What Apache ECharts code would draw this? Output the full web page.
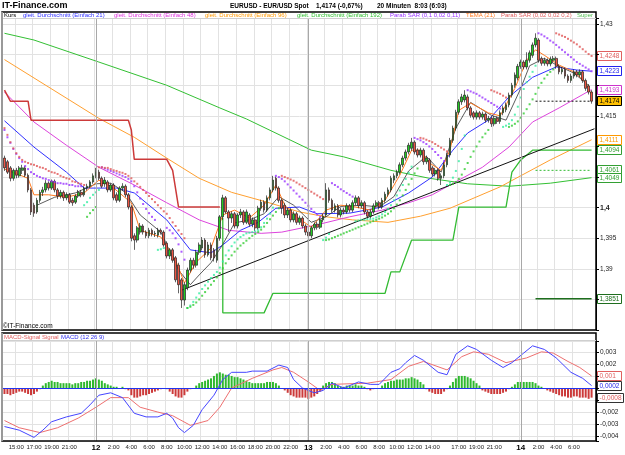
<!DOCTYPE html>
<html>
<head>
<meta charset="utf-8">
<script src="https://cdn.jsdelivr.net/npm/echarts@6/dist/echarts.min.js"></script>
<style>html,body{margin:0;padding:0;background:#fff}#chart{width:625px;height:455px}</style>
</head>
<body>
<div id="chart"></div>
<script>
var FONT = 'Liberation Sans, Arial, sans-serif';

// 20-minute bars, 11th 13:40 .. 14th 8:00 (+1 empty slot)
var times = [];
(function () {
  var d = 11, m = 13 * 60 + 40;
  for (var k = 0; k < 201; k++) {
    var h = Math.floor(m / 60), mm = m % 60;
    times.push(d + ' ' + (h < 10 ? '0' : '') + h + ':' + (mm < 10 ? '0' : '') + mm);
    m += 20;
    if (m >= 1440) { m -= 1440; d++; }
  }
})();

var tickTimes = ['11 15:00','11 17:00','11 19:00','11 21:00','12 00:00','12 02:00','12 04:00','12 06:00','12 08:00',
  '12 10:00','12 12:00','12 14:00','12 16:00','12 18:00','12 20:00','12 22:00','13 00:00','13 02:00','13 04:00',
  '13 06:00','13 08:00','13 10:00','13 12:00','13 14:00','13 17:00','13 19:00','13 21:00','14 00:00','14 02:00',
  '14 04:00','14 06:00'];
var dayTicks = ['12 00:00', '13 00:00', '14 00:00'];
var yLabels = ['1,43', '1,415', '1,4', '1,395', '1,39'];
var macdLabels = ['0,003', '0,002', '-0,002', '-0,003', '-0,004'];

// [open, close, low, high]
var candles = [
 [1.4081,1.4065,1.4060,1.4085],[1.4075,1.4058,1.4055,1.4078],[1.4065,1.4048,1.4043,1.4068],[1.4048,1.4061,1.4044,1.4064],
 [1.4061,1.4053,1.4048,1.4065],[1.4052,1.4065,1.4049,1.4068],[1.4061,1.4065,1.4055,1.4070],[1.4065,1.4053,1.4050,1.4068],
 [1.4053,1.4029,1.4025,1.4056],[1.4029,1.3993,1.3988,1.4032],[1.4004,1.3991,1.3985,1.4008],[1.3993,1.4012,1.3990,1.4016],
 [1.4012,1.4025,1.4008,1.4029],[1.4025,1.4029,1.4019,1.4034],[1.4029,1.4040,1.4025,1.4045],[1.4040,1.4032,1.4028,1.4043],
 [1.4032,1.4043,1.4029,1.4046],[1.4043,1.4029,1.4025,1.4046],[1.4029,1.4019,1.4014,1.4032],[1.4019,1.4025,1.4015,1.4029],
 [1.4025,1.4016,1.4011,1.4028],[1.4016,1.4021,1.4012,1.4025],[1.4021,1.4009,1.4006,1.4024],[1.4012,1.4008,1.4003,1.4016],
 [1.4009,1.4019,1.4006,1.4022],[1.4019,1.4025,1.4016,1.4029],[1.4025,1.4021,1.4017,1.4029],[1.4021,1.4032,1.4018,1.4035],
 [1.4032,1.4035,1.4028,1.4039],[1.4035,1.4042,1.4032,1.4045],[1.4042,1.4052,1.4039,1.4056],[1.4052,1.4058,1.4048,1.4065],
 [1.4058,1.4048,1.4045,1.4062],[1.4048,1.4035,1.4032,1.4051],[1.4039,1.4045,1.4034,1.4050],[1.4042,1.4029,1.4025,1.4045],
 [1.4029,1.4037,1.4026,1.4040],[1.4037,1.4016,1.4012,1.4040],[1.4021,1.4012,1.4008,1.4025],[1.4012,1.4032,1.4009,1.4035],
 [1.4032,1.4035,1.4028,1.4040],[1.4035,1.4021,1.4017,1.4038],[1.4021,1.4001,1.3997,1.4024],[1.4001,1.3950,1.3945,1.4004],
 [1.3954,1.3947,1.3931,1.3958],[1.3947,1.3967,1.3943,1.3970],[1.3960,1.3970,1.3956,1.3975],[1.3970,1.3960,1.3956,1.3973],
 [1.3960,1.3954,1.3950,1.3963],[1.3954,1.3963,1.3950,1.3967],[1.3963,1.3957,1.3953,1.3966],[1.3957,1.3958,1.3952,1.3962],
 [1.3955,1.3963,1.3951,1.3967],[1.3963,1.3960,1.3956,1.3966],[1.3960,1.3939,1.3936,1.3963],[1.3942,1.3921,1.3917,1.3945],
 [1.3921,1.3931,1.3916,1.3934],[1.3931,1.3914,1.3910,1.3934],[1.3918,1.3882,1.3878,1.3921],[1.3906,1.3874,1.3860,1.3910],
 [1.3882,1.3849,1.3836,1.3885],[1.3849,1.3874,1.3840,1.3878],[1.3869,1.3898,1.3865,1.3902],[1.3898,1.3914,1.3894,1.3918],
 [1.3914,1.3906,1.3900,1.3918],[1.3906,1.3927,1.3902,1.3931],[1.3927,1.3939,1.3923,1.3943],[1.3934,1.3947,1.3930,1.3952],
 [1.3947,1.3923,1.3918,1.3950],[1.3923,1.3939,1.3920,1.3944],[1.3939,1.3918,1.3914,1.3943],[1.3931,1.3918,1.3912,1.3934],
 [1.3914,1.3950,1.3910,1.3954],[1.3950,1.3985,1.3946,1.3988],[1.3985,1.4016,1.3980,1.4021],[1.4016,1.3993,1.3990,1.4019],
 [1.3993,1.3983,1.3960,1.3996],[1.3983,1.3990,1.3975,1.3994],[1.3990,1.3970,1.3966,1.3993],[1.3970,1.3988,1.3966,1.3991],
 [1.3988,1.3993,1.3983,1.3998],[1.3993,1.3976,1.3972,1.3996],[1.3976,1.3993,1.3973,1.3997],[1.3988,1.3973,1.3969,1.3991],
 [1.3973,1.3980,1.3968,1.3984],[1.3980,1.3967,1.3962,1.3983],[1.3967,1.3999,1.3964,1.4003],[1.3999,1.4009,1.3995,1.4013],
 [1.4009,1.3996,1.3992,1.4012],[1.3996,1.4016,1.3993,1.4020],[1.4016,1.4029,1.4012,1.4033],[1.4029,1.4045,1.4025,1.4052],
 [1.4048,1.4032,1.4028,1.4051],[1.4032,1.4012,1.4008,1.4035],[1.4012,1.3999,1.3990,1.4015],[1.4004,1.3988,1.3983,1.4008],
 [1.3988,1.3996,1.3983,1.4000],[1.3996,1.3980,1.3976,1.3999],[1.3980,1.3990,1.3976,1.3994],[1.3990,1.3976,1.3972,1.3993],
 [1.3976,1.3983,1.3972,1.3987],[1.3983,1.3970,1.3966,1.3986],[1.3970,1.3960,1.3955,1.3973],[1.3960,1.3954,1.3947,1.3963],
 [1.3954,1.3967,1.3950,1.3970],[1.3967,1.3973,1.3963,1.3976],[1.3973,1.3968,1.3964,1.3977],[1.3968,1.3980,1.3965,1.3983],
 [1.3980,1.3986,1.3976,1.3990],[1.3988,1.4029,1.3985,1.4040],[1.4029,1.4012,1.4008,1.4033],[1.4012,1.3996,1.3992,1.4015],
 [1.3996,1.4003,1.3992,1.4007],[1.4003,1.3988,1.3984,1.4006],[1.3988,1.3996,1.3984,1.4000],[1.3996,1.3993,1.3989,1.4000],
 [1.3993,1.4003,1.3990,1.4007],[1.4003,1.3996,1.3992,1.4006],[1.3996,1.4008,1.3993,1.4012],[1.4008,1.4016,1.4004,1.4020],
 [1.4016,1.4003,1.3999,1.4019],[1.4003,1.4008,1.3999,1.4012],[1.4008,1.3993,1.3989,1.4011],[1.3993,1.3986,1.3982,1.3996],
 [1.3986,1.3993,1.3982,1.3997],[1.3993,1.4003,1.3990,1.4007],[1.4003,1.4008,1.4000,1.4012],[1.4008,1.4001,1.3997,1.4011],
 [1.4001,1.4012,1.3998,1.4016],[1.4012,1.4022,1.4008,1.4026],[1.4022,1.4029,1.4018,1.4033],[1.4029,1.4048,1.4025,1.4052],
 [1.4045,1.4052,1.4040,1.4056],[1.4052,1.4058,1.4048,1.4062],[1.4058,1.4070,1.4054,1.4074],[1.4070,1.4081,1.4066,1.4085],
 [1.4081,1.4091,1.4077,1.4095],[1.4091,1.4102,1.4087,1.4106],[1.4097,1.4107,1.4093,1.4114],[1.4107,1.4091,1.4087,1.4110],
 [1.4094,1.4086,1.4082,1.4097],[1.4086,1.4094,1.4082,1.4098],[1.4094,1.4075,1.4070,1.4097],[1.4075,1.4081,1.4071,1.4085],
 [1.4078,1.4061,1.4057,1.4081],[1.4065,1.4055,1.4051,1.4068],[1.4055,1.4061,1.4051,1.4065],[1.4061,1.4048,1.4044,1.4064],
 [1.4048,1.4052,1.4037,1.4056],[1.4052,1.4070,1.4048,1.4074],[1.4070,1.4086,1.4066,1.4090],[1.4086,1.4110,1.4082,1.4114],
 [1.4110,1.4130,1.4106,1.4134],[1.4130,1.4156,1.4126,1.4160],[1.4156,1.4173,1.4152,1.4177],[1.4173,1.4181,1.4168,1.4186],
 [1.4176,1.4184,1.4172,1.4192],[1.4181,1.4163,1.4159,1.4185],[1.4163,1.4151,1.4147,1.4166],[1.4155,1.4148,1.4144,1.4158],
 [1.4148,1.4155,1.4144,1.4159],[1.4155,1.4148,1.4144,1.4158],[1.4148,1.4153,1.4144,1.4157],[1.4153,1.4143,1.4139,1.4156],
 [1.4143,1.4146,1.4139,1.4150],[1.4146,1.4137,1.4132,1.4149],[1.4137,1.4146,1.4133,1.4150],[1.4146,1.4141,1.4137,1.4149],
 [1.4141,1.4155,1.4137,1.4159],[1.4155,1.4163,1.4151,1.4167],[1.4160,1.4168,1.4156,1.4172],[1.4168,1.4184,1.4164,1.4188],
 [1.4184,1.4200,1.4180,1.4204],[1.4200,1.4217,1.4196,1.4221],[1.4212,1.4231,1.4208,1.4235],[1.4231,1.4238,1.4227,1.4242],
 [1.4238,1.4230,1.4226,1.4241],[1.4230,1.4241,1.4226,1.4254],[1.4241,1.4253,1.4237,1.4257],[1.4249,1.4266,1.4245,1.4270],
 [1.4266,1.4277,1.4262,1.4285],[1.4274,1.4241,1.4237,1.4277],[1.4244,1.4236,1.4232,1.4247],[1.4236,1.4241,1.4232,1.4245],
 [1.4241,1.4235,1.4231,1.4244],[1.4235,1.4243,1.4231,1.4247],[1.4241,1.4244,1.4237,1.4248],[1.4244,1.4231,1.4227,1.4247],
 [1.4231,1.4222,1.4218,1.4234],[1.4222,1.4226,1.4218,1.4230],[1.4226,1.4215,1.4211,1.4229],[1.4215,1.4208,1.4204,1.4218],
 [1.4208,1.4215,1.4204,1.4219],[1.4215,1.4222,1.4211,1.4226],[1.4222,1.4217,1.4213,1.4225],[1.4217,1.4222,1.4213,1.4226],
 [1.4222,1.4208,1.4204,1.4225],[1.4208,1.4195,1.4191,1.4211],[1.4199,1.4189,1.4185,1.4202],[1.4189,1.4174,1.4170,1.4192]
];

// moving averages etc. as [bar index, value]
var sma21 = [[0,1.4142],[10,1.4099],[21,1.4058],[27,1.4032],[38,1.4032],[44,1.4024],[55,1.3980],[63,1.3931],[70,1.3926],
  [74,1.3939],[80,1.3963],[86,1.3976],[92,1.3999],[100,1.4001],[106,1.3990],[117,1.3991],[128,1.4001],[137,1.4024],
  [145,1.4050],[152,1.4094],[157,1.4122],[164,1.4143],[171,1.4181],[179,1.4213],[187,1.4230],[194,1.4225],[199,1.4223]];
var sma48 = [[0,1.4189],[10,1.4140],[21,1.4102],[32,1.4066],[44,1.4037],[55,1.4008],[66,1.3980],[76,1.3963],[87,1.3958],
  [94,1.3960],[106,1.3972],[117,1.3985],[128,1.3996],[137,1.4008],[145,1.4021],[154,1.4045],[162,1.4066],[171,1.4099],
  [179,1.4140],[188,1.4163],[199,1.4193]];
var sma96 = [[0,1.4242],[32,1.4146],[44,1.4115],[55,1.4081],[66,1.4048],[77,1.4025],[89,1.4009],[100,1.3993],[109,1.3985],
  [118,1.3980],[130,1.3976],[141,1.3986],[151,1.3999],[168,1.4034],[185,1.4078],[199,1.4111]];
var sma192 = [[0,1.4285],[10,1.4274],[32,1.4238],[55,1.4200],[73,1.4163],[82,1.4145],[104,1.4094],[115,1.4083],[131,1.4061],
  [144,1.4048],[157,1.4039],[171,1.4035],[185,1.4040],[199,1.4049]];
var tema = [[0,1.4063],[8,1.4048],[10,1.4021],[15,1.4021],[21,1.4017],[27,1.4024],[32,1.4045],[37,1.4032],[43,1.4008],
  [46,1.3963],[53,1.3952],[58,1.3914],[61,1.3877],[65,1.3911],[70,1.3934],[74,1.3988],[78,1.3996],[83,1.3983],[88,1.4004],
  [92,1.4037],[95,1.4004],[99,1.3985],[104,1.3968],[109,1.3996],[114,1.4004],[119,1.4001],[124,1.3996],[129,1.4012],
  [134,1.4053],[138,1.4094],[141,1.4094],[144,1.4073],[148,1.4061],[151,1.4094],[154,1.4159],[158,1.4171],[164,1.4155],
  [168,1.4150],[173,1.4195],[177,1.4241],[180,1.4258],[183,1.4249],[188,1.4233],[193,1.4222],[197,1.4205],[199,1.4184]];
var thinLine = [[11,1.4004],[17,1.4017],[24,1.4024],[31,1.4039],[36,1.4040],[41,1.4025],[46,1.3988],[53,1.3960],[59,1.3898],
  [63,1.3874],[66,1.3890],[70,1.3910],[74,1.3940],[78,1.3975],[83,1.3980],[88,1.3990],[93,1.4018],[98,1.4004],[104,1.3976],
  [109,1.3985],[114,1.4002],[121,1.4004],[127,1.4001],[132,1.4018],[137,1.4060],[143,1.4084],[148,1.4058],[153,1.4130],
  [158,1.4172],[165,1.4151],[170,1.4143],[175,1.4195],[178,1.4232],[183,1.4244],[188,1.4231],[193,1.4220],[198,1.4200]];
var trendLine = [[60,1.3865],[200,1.4129]];
var superRed = [[0,1.4192],[2,1.4174],[8,1.4174],[9,1.4143],[42,1.4143],[43,1.4127],[44,1.4079],[55,1.4079],[57,1.4061],
  [59,1.4001],[73,1.4001]];
var superGreen = [[74,1.3983],[74,1.3828],[88,1.3828],[91,1.3860],[129,1.3860],[131,1.3895],[134,1.3895],[138,1.3947],
  [152,1.3947],[154,1.4001],[170,1.4001],[172,1.4058],[175,1.4078],[179,1.4094],[199,1.4094]];
var lastLevel = [[180,1.4174],[199,1.4174]];
var greenLevel = [[180,1.4061],[199,1.4061]];
var lowLevel = [[180,1.3851],[199,1.3851]];

// Parabolic SAR dots: [start bar, values...]
var sarFastDown = [
  [0,[1.4127,1.4115,1.4106,1.4096,1.4088,1.4081,1.4075,1.4068,1.4063,1.4058,1.4055,1.4052,1.4050,1.4048,1.4047,1.4045,1.4043,1.4042,1.4040,1.4040,1.4039,1.4039,1.4037,1.4037,1.4035,1.4035,1.4035]],
  [33,[1.4066,1.4064,1.4062,1.4060,1.4058,1.4056,1.4054,1.4052,1.4050,1.4047,1.4043,1.4035,1.4025,1.4015,1.4006,1.3998,1.3991,1.3985,1.3980]],
  [55,[1.3967,1.3963,1.3958,1.3950,1.3940,1.3928,1.3915]],
  [92,[1.4052,1.4050,1.4047,1.4043,1.4038,1.4033,1.4028,1.4023,1.4018,1.4013,1.4008,1.4003,1.3998,1.3993,1.3989,1.3985]],
  [111,[1.4040,1.4037,1.4034,1.4030,1.4027,1.4024,1.4021,1.4018]],
  [139,[1.4114,1.4112,1.4110,1.4107,1.4104,1.4100,1.4096,1.4091,1.4086,1.4081,1.4076]],
  [157,[1.4192,1.4190,1.4188,1.4186,1.4183,1.4180,1.4177,1.4174,1.4171,1.4168,1.4165,1.4162]],
  [181,[1.4285,1.4283,1.4280,1.4277,1.4273,1.4270,1.4266,1.4262,1.4258,1.4254,1.4250,1.4246,1.4242,1.4238,1.4235,1.4232,1.4229,1.4226,1.4223]]
];
var sarFastUp = [
  [27,[1.4004,1.4009,1.4016,1.4021,1.4025,1.4029]],
  [52,[1.3931,1.3932,1.3934]],
  [62,[1.3836,1.3840,1.3846,1.3853,1.3860,1.3867,1.3873,1.3879,1.3885,1.3890,1.3895,1.3902,1.3912,1.3922,1.3930,1.3937,1.3943,1.3948,1.3952,1.3955,1.3958,1.3959,1.3960,1.3961,1.3963,1.3968,1.3975,1.3982,1.3990,1.4000]],
  [108,[1.3947,1.3951,1.3957]],
  [119,[1.3978,1.3979,1.3980,1.3980,1.3981,1.3981,1.3982,1.3984,1.3986,1.3989,1.3993,1.3998,1.4004,1.4012,1.4020,1.4028,1.4037,1.4047,1.4057,1.4067]],
  [150,[1.4037,1.4041,1.4049,1.4060,1.4076,1.4096,1.4118]],
  [169,[1.4132,1.4134,1.4137,1.4143,1.4152,1.4165,1.4180,1.4194,1.4205,1.4214,1.4222,1.4232]]
];
var sarSlowDown = [
  [0,[1.4130,1.4119,1.4107,1.4097,1.4089,1.4083,1.4078,1.4075,1.4073,1.4071,1.4070,1.4068,1.4066,1.4065,1.4063,1.4060,1.4058,1.4057,1.4055,1.4052,1.4050,1.4048,1.4047,1.4043,1.4042,1.4040,1.4039,1.4037]],
  [32,[1.4066,1.4066,1.4065,1.4065,1.4063,1.4061,1.4060,1.4058,1.4057,1.4055,1.4052,1.4048,1.4043,1.4039,1.4034,1.4029,1.4024,1.4019,1.4014,1.4009,1.4004,1.3999,1.3994,1.3990,1.3983,1.3976,1.3970,1.3963,1.3957,1.3950]],
  [94,[1.4052,1.4050,1.4048,1.4046,1.4044,1.4041,1.4038,1.4035,1.4032,1.4029,1.4026,1.4023,1.4020,1.4017,1.4014]],
  [141,[1.4114,1.4113,1.4111,1.4109,1.4107,1.4104,1.4101,1.4098,1.4095,1.4092]],
  [165,[1.4192,1.4190,1.4188,1.4186,1.4183,1.4180]],
  [187,[1.4285,1.4283,1.4281,1.4279,1.4276,1.4273,1.4270,1.4267,1.4263,1.4259,1.4255,1.4251,1.4248]]
];
var sarSlowUp = [
  [28,[1.3985,1.3991,1.3996,1.4001]],
  [62,[1.3836,1.3838,1.3841,1.3845,1.3850,1.3856,1.3862,1.3868,1.3874,1.3880,1.3886,1.3893,1.3901,1.3909,1.3916,1.3922,1.3928,1.3933,1.3938,1.3942,1.3946,1.3950,1.3954,1.3957,1.3960,1.3964,1.3969,1.3975,1.3981,1.3987,1.3993,1.3999]],
  [109,[1.3947,1.3948,1.3950,1.3952,1.3954,1.3956,1.3958,1.3960,1.3962,1.3964,1.3966,1.3968,1.3970,1.3972,1.3974,1.3976,1.3978,1.3980,1.3982,1.3984,1.3987,1.3990,1.3994,1.3999,1.4005,1.4012,1.4020,1.4029,1.4038,1.4047,1.4056,1.4064]],
  [151,[1.4037,1.4039,1.4042,1.4047,1.4054,1.4063,1.4073,1.4083,1.4092,1.4100,1.4108,1.4115,1.4121,1.4127]],
  [171,[1.4132,1.4134,1.4137,1.4141,1.4147,1.4154,1.4161,1.4169,1.4177,1.4186,1.4196,1.4204,1.4211,1.4217,1.4222,1.4226]]
];

// MACD panel
var macdLine = [[0,-0.0032],[5,-0.0035],[10,-0.0041],[13,-0.0035],[16,-0.0028],[21,-0.0024],[26,-0.0021],[29,-0.0014],
  [32,-0.0006],[36,-0.0004],[40,-0.0008],[44,-0.0021],[48,-0.0024],[52,-0.0024],[55,-0.0021],[57,-0.0025],[59,-0.0033],
  [61,-0.0037],[64,-0.0031],[67,-0.0018],[71,-0.0006],[74,0.0007],[77,0.0013],[82,0.0013],[84,0.0014],[89,0.0014],
  [93,0.0019],[96,0.0017],[98,0.0007],[101,0.0],[105,-0.0004],[108,-0.0002],[111,0.0004],[115,0.0],[120,0.0005],
  [124,0.0003],[127,0.0003],[131,0.0013],[134,0.0016],[136,0.0021],[139,0.0027],[142,0.0023],[147,0.0013],[150,0.0011],
  [153,0.0028],[157,0.0035],[160,0.0032],[165,0.0023],[169,0.0017],[172,0.0021],[176,0.0029],[179,0.0035],[183,0.0032],
  [187,0.0025],[192,0.0013],[196,0.0008],[199,0.0002]];
var signalLine = [[0,-0.0027],[5,-0.0033],[12,-0.0037],[18,-0.0033],[25,-0.0025],[31,-0.0016],[36,-0.0008],[42,-0.0008],
  [46,-0.0016],[52,-0.0020],[57,-0.0023],[63,-0.0031],[69,-0.0027],[73,-0.0016],[77,0.0],[84,0.0008],[91,0.0015],
  [94,0.0017],[98,0.0013],[103,0.0005],[107,-0.0002],[111,0.0003],[123,0.0004],[131,0.0007],[137,0.0018],[142,0.0022],
  [150,0.0015],[155,0.0026],[159,0.0030],[164,0.0028],[170,0.0021],[177,0.0025],[182,0.0030],[186,0.0029],[191,0.0022],
  [195,0.0017],[199,0.0010]];
var histogram = [
  -0.0005,-0.0005,-0.0006,-0.0005,-0.0004,-0.0003,-0.0003,-0.0004,-0.0005,-0.0006,-0.0005,-0.0003,-0.0001,
  0.0002,0.0004,0.0005,0.0006,0.0005,0.0005,0.0004,0.0004,0.0004,0.0004,0.0003,0.0004,0.0004,0.0005,0.0005,0.0006,0.0006,
  0.0007,0.0008,0.0007,0.0006,0.0004,0.0003,0.0002,
  0.0001,0.0001,0,0.0001,-0.0001,
  -0.0002,-0.0006,-0.0008,-0.0008,-0.0007,-0.0006,-0.0006,-0.0005,-0.0004,-0.0003,-0.0002,-0.0001,
  0,-0.0001,
  -0.0003,-0.0005,-0.0007,-0.0008,-0.0008,-0.0006,-0.0003,-0.0001,0,
  0.0002,0.0004,0.0005,0.0006,0.0007,0.0008,0.0010,0.0012,0.0013,0.0012,0.0011,0.0011,0.0010,0.0009,0.0009,0.0008,
  0.0007,0.0006,0.0005,0.0004,0.0004,0.0004,0.0004,0.0004,0.0005,0.0005,0.0005,0.0004,0.0002,0,
  -0.0002,-0.0004,-0.0006,-0.0007,-0.0008,-0.0008,-0.0008,-0.0008,-0.0009,-0.0008,-0.0007,-0.0005,-0.0003,
  0.0002,0.0004,0.0005,0.0005,0.0004,0.0002,
  0.0001,0.0001,
  0.0002,0.0002,0.0002,0.0003,0.0002,0.0002,0.0001,
  -0.0001,-0.0002,-0.0001,
  0,0,
  0.0002,0.0004,0.0005,0.0006,0.0006,0.0007,0.0007,0.0007,0.0008,0.0008,0.0009,0.0008,0.0007,0.0005,0.0003,
  -0.0001,-0.0003,-0.0004,-0.0005,-0.0005,-0.0005,-0.0003,-0.0001,
  0.0002,0.0005,0.0008,0.0010,0.0010,0.0010,0.0009,0.0008,0.0006,0.0004,0.0002,
  -0.0002,-0.0003,-0.0004,-0.0005,-0.0005,-0.0005,-0.0005,-0.0004,-0.0003,-0.0001,
  0.0001,0.0003,0.0005,0.0005,0.0005,0.0005,0.0005,0.0005,0.0004,0.0002,
  0.0001,0,
  -0.0002,-0.0003,-0.0004,-0.0005,-0.0006,-0.0007,-0.0007,-0.0008,-0.0008,-0.0007,-0.0007,-0.0008,-0.0008,-0.0008,-0.0009,-0.0008
];

// value tags on the right axis: [value, text, text colour, fill, border]
var priceTags = [
  [1.4248, '1,4248', '#e06060', '#fff', '#e06060'], [1.4223, '1,4223', '#2222ee', '#fff', '#2222ee'],
  [1.4193, '1,4193', '#cc33cc', '#fff', '#cc33cc'], [1.4174, '1,4174', '#000', '#ffc000', '#000'],
  [1.4111, '1,4111', '#ff9900', '#fff', '#ff9900'], [1.4094, '1,4094', '#33a033', '#fff', '#33a033'],
  [1.4061, '1,4061', '#33a033', '#fff', '#33a033'], [1.4049, '1,4049', '#33a033', '#fff', '#33a033'],
  [1.3851, '1,3851', '#1e6e1e', '#fff', '#1e6e1e']
];
var macdTags = [[0.001, '0,001', '#e06060', '#fff', '#e06060'], [0.0002, '0,0002', '#2222ee', '#fff', '#333'],
  [-0.0008, '-0,0008', '#e06060', '#fff', '#333']];

function segPoints(segs) {
  var out = [];
  segs.forEach(function (s) { s[1].forEach(function (v, k) { out.push([s[0] + k, v]); }); });
  return out;
}
function fmt(v) { return String(+v.toFixed(4)).replace('.', ','); }
function tickShown(i, v) { return tickTimes.indexOf(v) >= 0; }

function line(name, data, color, width, extra) {
  var s = {
    name: name, type: 'line', xAxisIndex: 0, yAxisIndex: 0, data: data, symbol: 'none', silent: true,
    lineStyle: { color: color, width: width }, z: 2
  };
  for (var k in extra) s[k] = extra[k];
  return s;
}
function dots(name, segs, color) {
  return {
    name: name, type: 'scatter', xAxisIndex: 0, yAxisIndex: 0, data: segPoints(segs), symbol: 'rect',
    symbolSize: 2, itemStyle: { color: color }, silent: true, z: 4
  };
}
function txt(x, y, text, font, fill) {
  return { type: 'text', x: x, y: y, z: 100, style: { text: text, font: font + ' ' + FONT, fill: fill, verticalAlign: 'middle', textVerticalAlign: 'middle' } };
}

var dayMark = {
  silent: true, symbol: 'none', label: { show: false },
  lineStyle: { color: '#a8a8a8', width: 1, type: 'solid' },
  data: dayTicks.map(function (d) { return { xAxis: d }; })
};

var xBase = {
  type: 'category', data: times, boundaryGap: true,
  axisTick: { show: false },
  splitLine: { show: true, interval: tickShown, lineStyle: { color: '#e2e2e2', width: 1 } }
};

var graphics = [
  txt(2, 6, 'IT-Finance.com', 'bold 9px', '#000'),
  txt(230, 6, 'EURUSD - EUR/USD Spot', 'bold 6.5px', '#000'),
  txt(316, 6, '1,4174 (-0,67%)', 'bold 6.5px', '#000'),
  txt(377, 6, '20 Minuten  8:03 (6:03)', 'bold 6.5px', '#000'),
  { type: 'rect', z: 100, shape: { x: 2, y: 12, width: 594, height: 318 }, style: { fill: 'none', stroke: '#000', lineWidth: 1.5 } },
  { type: 'line', z: 101, shape: { x1: 2, y1: 12, x2: 2, y2: 330 }, style: { stroke: '#999', lineWidth: 2 } },
  { type: 'line', z: 100, shape: { x1: 3, y1: 18.5, x2: 596, y2: 18.5 }, style: { stroke: '#cfcfcf', lineWidth: 1 } },
  { type: 'rect', z: 100, shape: { x: 2, y: 333, width: 594, height: 108 }, style: { fill: 'none', stroke: '#000', lineWidth: 1.5 } },
  { type: 'line', z: 101, shape: { x1: 2, y1: 333, x2: 2, y2: 441 }, style: { stroke: '#999', lineWidth: 2 } },
  { type: 'line', z: 100, shape: { x1: 3, y1: 340.5, x2: 596, y2: 340.5 }, style: { stroke: '#cfcfcf', lineWidth: 1 } },
  txt(4, 15.5, 'Kurs', '6px', '#000'),
  txt(23, 15.5, 'gleit. Durchschnitt (Einfach 21)', '6px', '#3030ff'),
  txt(114, 15.5, 'gleit. Durchschnitt (Einfach 48)', '6px', '#dd33dd'),
  txt(205, 15.5, 'gleit. Durchschnitt (Einfach 96)', '6px', '#ff9900'),
  txt(297, 15.5, 'gleit. Durchschnitt (Einfach 192)', '6px', '#33c033'),
  txt(390, 15.5, 'Parab SAR (0,1 0,02 0,11)', '6px', '#9933ff'),
  txt(466, 15.5, 'TEMA (21)', '6px', '#ff7a20'),
  txt(501, 15.5, 'Parab SAR (0,02 0,02 0,2)', '6px', '#e06060'),
  txt(577, 15.5, 'Super', '6px', '#55c055'),
  txt(3, 326, '\u00A9IT-Finance.com', '6.5px', '#000'),
  txt(4, 337, 'MACD-Signal Signal', '6px', '#e06060'),
  txt(61, 337, 'MACD (12 26 9)', '6px', '#3030ee')
];

var option = {
  animation: false,
  backgroundColor: '#fff',
  textStyle: { fontFamily: FONT },
  grid: [
    { left: 3, right: 29, top: 18, height: 312 },
    { left: 3, right: 29, top: 341, height: 100 }
  ],
  xAxis: [
    Object.assign({}, xBase, { gridIndex: 0, axisLine: { show: false }, axisLabel: { show: false } }),
    Object.assign({}, xBase, {
      gridIndex: 1, axisLine: { show: true, lineStyle: { color: '#888' } },
      axisLabel: {
        show: true, interval: tickShown, fontSize: 6, color: '#222', margin: 3,
        formatter: function (v) {
          var p = v.split(' ');
          if (p[1] === '00:00') return '{d|' + p[0] + '}';
          return parseInt(p[1], 10) + ':' + p[1].slice(3);
        },
        rich: { d: { fontWeight: 'bold', fontSize: 8, color: '#000' } }
      }
    })
  ],
  yAxis: [
    {
      gridIndex: 0, type: 'value', position: 'right', min: 1.38, max: 1.431, interval: 0.005,
      axisLine: { show: true, lineStyle: { color: '#000' } },
      axisTick: { show: true, length: 3, lineStyle: { color: '#000' } },
      splitLine: { show: true, lineStyle: { color: '#e2e2e2' } },
      axisLabel: {
        fontSize: 6.5, color: '#222', margin: 4,
        formatter: function (v) {
          var s = fmt(v);
          if (yLabels.indexOf(s) < 0) return '';
          return s === '1,4' ? '{b|1,4}' : s;
        },
        rich: { b: { fontWeight: 'bold', fontSize: 7 } }
      }
    },
    {
      gridIndex: 1, type: 'value', position: 'right', min: -0.0044, max: 0.0039, splitNumber: 8,
      minInterval: 0.001, maxInterval: 0.001,
      axisLine: { show: true, lineStyle: { color: '#000' } },
      axisTick: { show: true, length: 3, lineStyle: { color: '#000' } },
      splitLine: { show: true, lineStyle: { color: '#e2e2e2' } },
      axisLabel: {
        fontSize: 6.5, color: '#222', margin: 4,
        formatter: function (v) { var s = fmt(v); return macdLabels.indexOf(s) >= 0 ? s : ''; }
      }
    }
  ],
  series: [
    line('gleit. Durchschnitt (Einfach 192)', sma192, '#33c033', 1, { markLine: dayMark }),
    line('gleit. Durchschnitt (Einfach 96)', sma96, '#ffa030', 1),
    line('gleit. Durchschnitt (Einfach 48)', sma48, '#dd44dd', 1),
    line('gleit. Durchschnitt (Einfach 21)', sma21, '#3030ff', 1),
    line('Supertrend ab', superRed, '#cc3a3a', 1.5),
    line('Supertrend auf', superGreen, '#33bb33', 1.3),
    line('Trend', trendLine, '#111', 1),
    line('Schluss', lastLevel, '#111', 1, { lineStyle: { color: '#111', width: 1, type: [2, 2] } }),
    line('Stop', greenLevel, '#33bb33', 1, { lineStyle: { color: '#33bb33', width: 1, type: [2, 2] } }),
    line('Tief', lowLevel, '#1e6e1e', 1.5),
    {
      name: 'Kurs', type: 'candlestick', xAxisIndex: 0, yAxisIndex: 0, data: candles, barWidth: 2.2, silent: true, z: 3,
      itemStyle: { color: '#22cc22', color0: '#ee5544', borderColor: '#222', borderColor0: '#222', borderWidth: 0.7 }
    },
    line('Linie', thinLine, '#333', 0.8, { z: 3 }),
    line('TEMA (21)', tema, '#ff7a20', 1, { z: 3 }),
    dots('Parab SAR (0,1 0,02 0,11)', sarFastDown, '#9933ff'),
    dots('Parab SAR (0,1 0,02 0,11) auf', sarFastUp, '#33eea0'),
    dots('Parab SAR (0,02 0,02 0,2)', sarSlowDown, '#e05555'),
    dots('Parab SAR (0,02 0,02 0,2) auf', sarSlowUp, '#33cc33'),
    {
      name: 'MACD-Signal', type: 'bar', xAxisIndex: 1, yAxisIndex: 1, data: histogram, barWidth: 2, silent: true,
      itemStyle: { color: function (p) { return p.value >= 0 ? '#2fb82f' : '#cc3a3a'; } },
      markLine: {
        silent: true, symbol: 'none', label: { show: false },
        lineStyle: { color: '#2233ee', width: 1.2, type: 'solid' }, data: [{ yAxis: 0 }]
      }
    },
    { name: 'days2', type: 'line', xAxisIndex: 1, yAxisIndex: 1, data: [], markLine: dayMark },
    {
      name: 'Signal', type: 'line', xAxisIndex: 1, yAxisIndex: 1, data: signalLine, symbol: 'none', silent: true,
      lineStyle: { color: '#ee7070', width: 1 }
    },
    {
      name: 'MACD (12 26 9)', type: 'line', xAxisIndex: 1, yAxisIndex: 1, data: macdLine, symbol: 'none', silent: true,
      lineStyle: { color: '#4545ff', width: 1 }
    }
  ],
  graphic: graphics
};

var chart = echarts.init(document.getElementById('chart'));
chart.setOption(option);

// place the value tags through the axis scales
function tagGraphic(axisIdx, t, w) {
  var y = chart.convertToPixel({ yAxisIndex: axisIdx }, t[0]);
  return {
    type: 'group', x: 597.5, y: Math.round(y) - 4.5, z: 120,
    children: [
      { type: 'rect', shape: { x: 0, y: 0, width: w, height: 9 }, style: { fill: t[3], stroke: t[4], lineWidth: 1 } },
      { type: 'text', x: 2, y: 5, style: { text: t[1], font: '6.5px ' + FONT, fill: t[2], verticalAlign: 'middle', textVerticalAlign: 'middle' } }
    ]
  };
}
var tagEls = priceTags.map(function (t) { return tagGraphic(0, t, 24); })
  .concat(macdTags.map(function (t) { return tagGraphic(1, t, t[1].length > 6 ? 26 : 24); }));
chart.setOption({ graphic: graphics.concat(tagEls) });
</script>
</body>
</html>
